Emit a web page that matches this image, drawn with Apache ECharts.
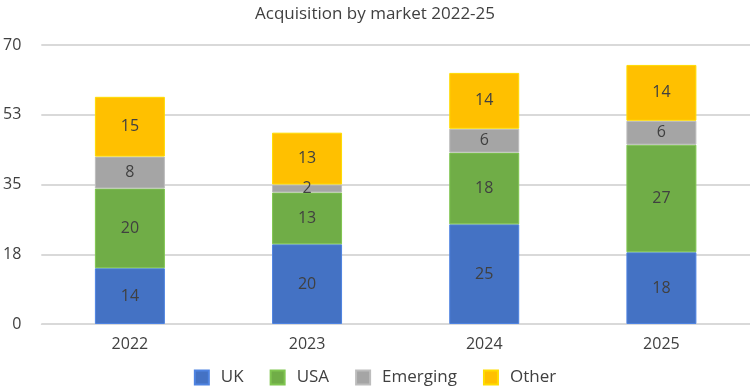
<!DOCTYPE html>
<html><head><meta charset="utf-8">
<script src="https://cdn.jsdelivr.net/npm/echarts@6/dist/echarts.min.js"></script>
<style>html,body{margin:0;padding:0;background:#fff}#c{width:750px;height:389px}</style>
</head><body><div id="c"></div>
<script>
const categories = ['2022','2023','2024','2025'];
const uk = [14,20,25,18];
const usa = [20,13,18,27];
const emerging = [8,2,6,6];
const other = [15,13,14,14];
const yTicks = ['0','18','35','53','70'];

const font = '"Open Sans", "Noto Sans", sans-serif';
function s(name, data, color){
  return {name, type:'bar', stack:'a', data, barWidth:'39.5%',
    itemStyle:{color, borderColor: echarts.color.lift(color,-0.15), borderWidth:1},
    label:{show:true, position:'inside', color:'#404040', fontSize:16, fontFamily:font},
    emphasis:{disabled:true}};
}
const chart = echarts.init(document.getElementById('c'));
chart.setOption({
  animation:false,
  title:{text:'Acquisition by market 2022-25', left:'center', top:1,
    textStyle:{fontFamily:font, fontSize:17, fontWeight:'normal', color:'#404040'}},
  grid:{left:40, right:0, top:45, bottom:65, containLabel:false},
  legend:{bottom:-2, left:'center', itemWidth:14, itemHeight:14, itemGap:26, icon:'rect',
    textStyle:{fontFamily:font, fontSize:17, color:'#404040', padding:[0,0,0,7]},
    data:['UK','USA','Emerging','Other']},
  xAxis:{type:'category', data:categories,
    axisLine:{lineStyle:{color:'#d9d9d9', width:1}}, axisTick:{show:false},
    axisLabel:{fontFamily:font, fontSize:16, color:'#404040', margin:12}},
  yAxis:{type:'value', min:0, max:70, interval:17.5,
    axisLabel:{fontFamily:font, fontSize:16, color:'#404040', margin:20,
      formatter:(v,i)=>yTicks[i]},
    splitLine:{lineStyle:{color:'#d9d9d9', width:2}}},
  series:[s('UK',uk,'#4472C4'), s('USA',usa,'#70AD47'), s('Emerging',emerging,'#A5A5A5'), s('Other',other,'#FFC000')]
});
</script></body></html>
